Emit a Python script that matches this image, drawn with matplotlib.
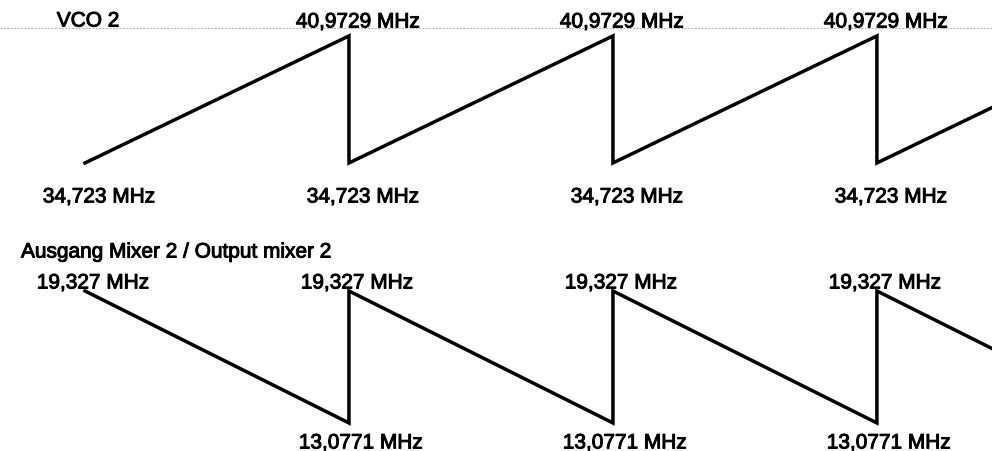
import matplotlib
matplotlib.use("Agg")
import matplotlib.pyplot as plt
import matplotlib.patheffects as pe
from matplotlib.lines import Line2D

plt.rcParams['font.family'] = ['Liberation Sans', 'DejaVu Sans']

# time axis in sweep periods, frequencies in MHz
vco_t = [0, 1, 1, 2, 2, 3, 3, 4]
vco_f = [34.723, 40.9729, 34.723, 40.9729, 34.723, 40.9729, 34.723, 40.9729]
mix_t = [0, 1, 1, 2, 2, 3, 3, 4]
mix_f = [19.327, 13.0771, 19.327, 13.0771, 19.327, 13.0771, 19.327, 13.0771]

vco_lo_lbl = "34,723 MHz"
vco_hi_lbl = "40,9729 MHz"
mix_hi_lbl = "19,327 MHz"
mix_lo_lbl = "13,0771 MHz"

LW = 2.5
FS = 15
# slightly heavier type, like the printed original
HEAVY = [pe.withStroke(linewidth=0.7, foreground='black')]

fig = plt.figure(figsize=(9.92, 4.52), dpi=100)
fig.patch.set_facecolor('white')

ax_top = fig.add_axes([0, 0, 1, 1])
ax_bot = fig.add_axes([0, 0, 1, 1])
for ax in (ax_top, ax_bot):
    ax.set_xlim(-0.322, 3.436)
    ax.set_axis_off()
    ax.patch.set_alpha(0)

ax_top.set_ylim(20.55, 42.79)
ax_bot.set_ylim(11.75, 33.15)

ax_top.plot(vco_t, vco_f, color='black', lw=LW, solid_joinstyle='miter')
ax_bot.plot(mix_t, mix_f, color='black', lw=LW, solid_joinstyle='miter')

# faint rule at the top edge
fig.add_artist(Line2D([0, 1], [0.936, 0.936], transform=fig.transFigure,
                      color='#b0b0b0', lw=0.7, ls=(0, (2, 1.5)), zorder=0))

# frequency labels at the turning points
for t, f in zip(vco_t[:-1], vco_f[:-1]):
    if f == max(vco_f):
        ax_top.annotate(vco_hi_lbl, (t, f), xytext=(9, 14), textcoords='offset pixels',
                        ha='center', va='center', fontsize=FS, path_effects=HEAVY)
    else:
        ax_top.annotate(vco_lo_lbl, (t, f), xytext=(14, -34), textcoords='offset pixels',
                        ha='center', va='center', fontsize=FS, path_effects=HEAVY)

for t, f in zip(mix_t[:-1], mix_f[:-1]):
    if f == max(mix_f):
        ax_bot.annotate(mix_hi_lbl, (t, f), xytext=(8, 8), textcoords='offset pixels',
                        ha='center', va='center', fontsize=FS, path_effects=HEAVY)
    else:
        ax_bot.annotate(mix_lo_lbl, (t, f), xytext=(12, -20), textcoords='offset pixels',
                        ha='center', va='center', fontsize=FS, path_effects=HEAVY)

fig.text(88 / 992, 1 - 22 / 452, "VCO 2", ha='center', va='center', fontsize=FS,
         path_effects=HEAVY)
fig.text(21 / 992, 1 - 253 / 452, "Ausgang Mixer 2 / Output mixer 2",
         ha='left', va='center', fontsize=FS, path_effects=HEAVY)

fig.savefig("out.png", dpi=100, facecolor='white')
